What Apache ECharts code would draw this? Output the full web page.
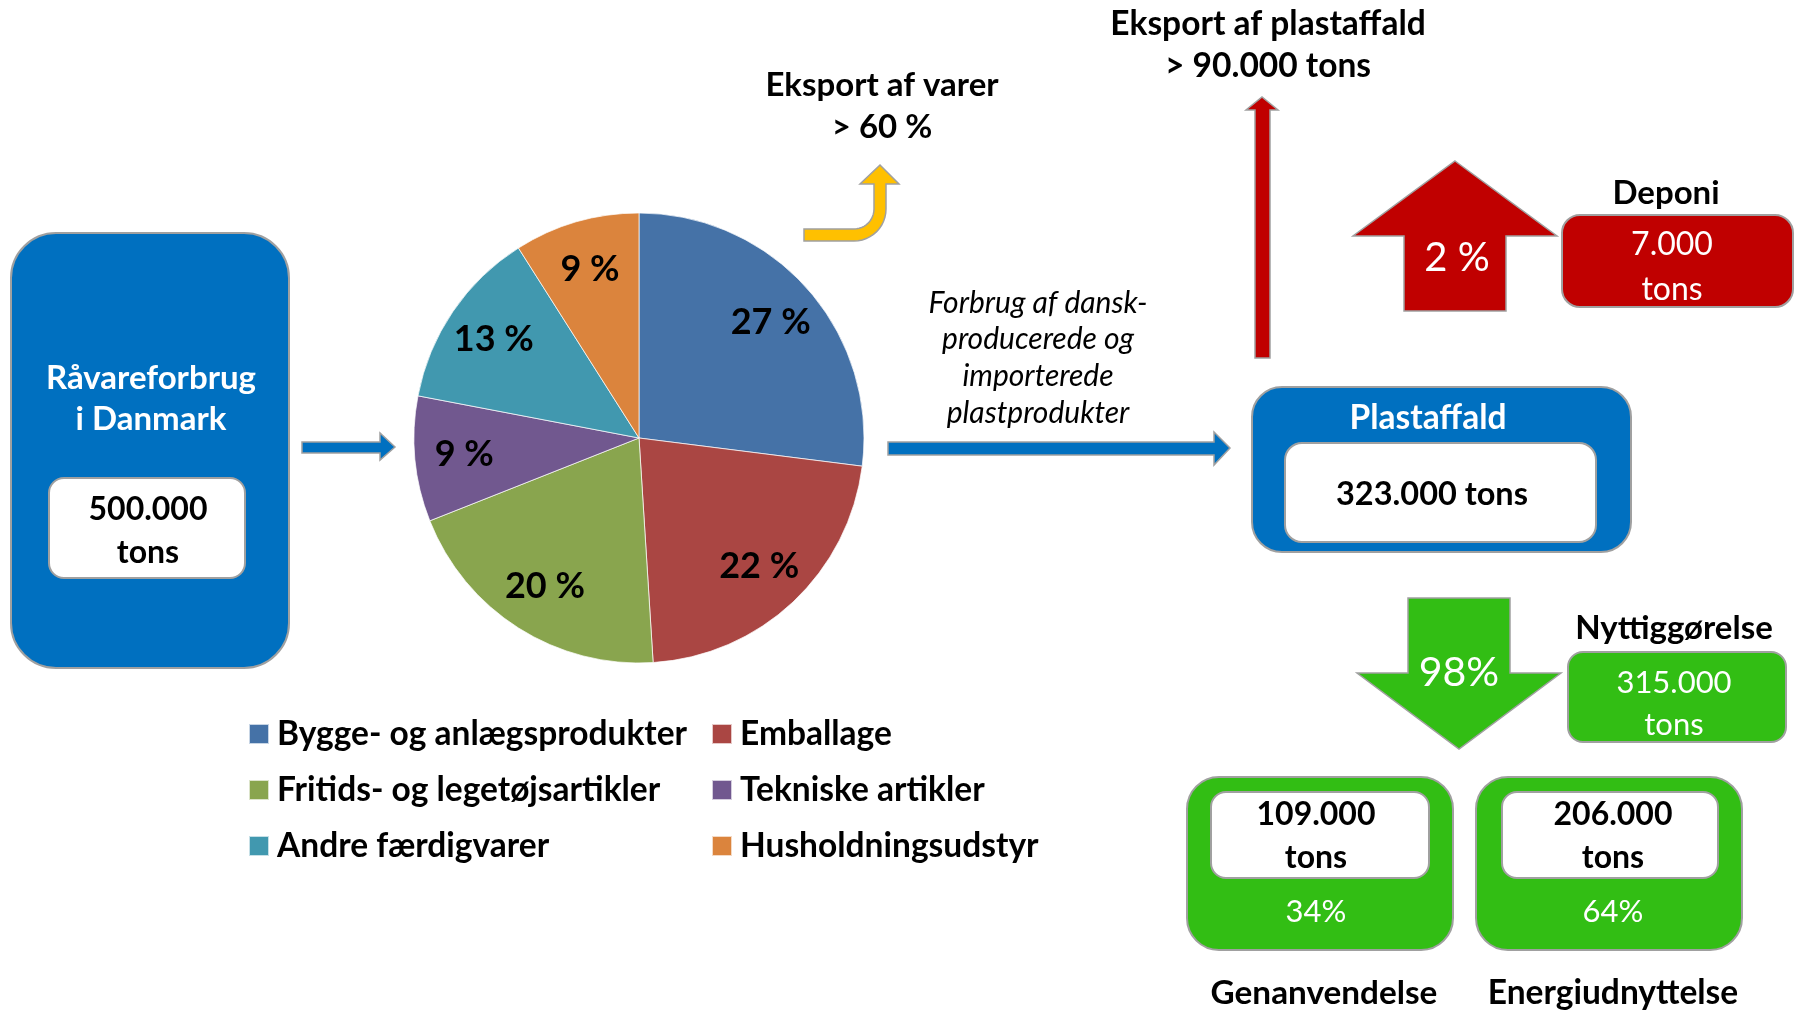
<!DOCTYPE html>
<html>
<head>
<meta charset="utf-8">
<script src="https://cdn.jsdelivr.net/npm/echarts@6/dist/echarts.min.js"></script>
<style>
html,body{margin:0;padding:0;background:#fff;}
#chart{width:1797px;height:1013px;}
</style>
</head>
<body>
<div id="chart"></div>
<script>
// ---- data ----
const categories = ['Bygge- og anlægsprodukter', 'Emballage', 'Fritids- og legetøjsartikler', 'Tekniske artikler', 'Andre færdigvarer', 'Husholdningsudstyr'];
const shares = [27, 22, 20, 9, 13, 9];
const sliceColors = ['#4572A7', '#AA4643', '#89A54E', '#71588F', '#4198AF', '#DB843D'];
const leftLegendItems = ['Bygge- og anlægsprodukter', 'Fritids- og legetøjsartikler', 'Andre færdigvarer'];
const rightLegendItems = ['Emballage', 'Tekniske artikler', 'Husholdningsudstyr'];

const sourceTitle = 'Råvareforbrug\ni Danmark';
const sourceAmount = '500.000\ntons';
const exportGoods = 'Eksport af varer\n> 60 %';
const exportWaste = 'Eksport af plastaffald\n> 90.000 tons';
const flowNote = 'Forbrug af dansk-\nproducerede og\nimporterede\nplastprodukter';
const wasteTitle = 'Plastaffald';
const wasteAmount = '323.000 tons';
const landfillShare = '2 %';
const landfillTitle = 'Deponi';
const landfillAmount = '7.000\ntons';
const recoveryShare = '98%';
const recoveryTitle = 'Nyttiggørelse';
const recoveryAmount = '315.000\ntons';
const recycleAmount = '109.000\ntons';
const recycleShare = '34%';
const recycleTitle = 'Genanvendelse';
const energyAmount = '206.000\ntons';
const energyShare = '64%';
const energyTitle = 'Energiudnyttelse';

// ---- styles ----
const BLUE = '#0070C0', RED = '#C00000', GREEN = '#32BE14', GOLD = '#FFC000', EDGE = '#A0A0A0';
const FONT = 'Lato, "Open Sans", sans-serif';

function box(x, y, w, h, r, fill) {
  return { type: 'rect', shape: { x: x, y: y, width: w, height: h, r: r }, style: { fill: fill, stroke: EDGE, lineWidth: 2 }, z: 1 };
}
function txt(text, x, y, size, weight, fill, lh, italic) {
  return { type: 'text', z: 10, style: { text: text, x: x, y: y, fill: fill || '#000',
    font: (italic ? 'italic ' : '') + (weight || 'bold') + ' ' + size + 'px ' + FONT,
    align: 'center', verticalAlign: 'middle', lineHeight: lh || size } };
}
function poly(points, fill) {
  return { type: 'polygon', shape: { points: points }, style: { fill: fill, stroke: EDGE, lineWidth: 1.5 }, z: 1 };
}
// quarter-arc sampler for the bent arrow outline
function arcPts(cx, cy, r, a0, a1, n) {
  const pts = [];
  for (let i = 0; i <= n; i++) {
    const a = a0 + (a1 - a0) * i / n;
    pts.push([cx + r * Math.cos(a), cy + r * Math.sin(a)]);
  }
  return pts;
}
const bentArrow = [[804, 229]]
  .concat(arcPts(854, 209, 20, Math.PI / 2, 0, 12))
  .concat([[874, 184], [860, 184], [880, 165], [899, 184], [886, 184]])
  .concat(arcPts(854, 209, 32, 0, Math.PI / 2, 12))
  .concat([[804, 241]]);

const chart = echarts.init(document.getElementById('chart'));
const pieData = categories.map((c, i) => ({ name: c, value: shares[i], itemStyle: { color: sliceColors[i] } }));

const legendBase = {
  orient: 'vertical', top: 717, padding: 0, itemWidth: 20, itemHeight: 20, itemGap: 22, icon: 'rect',
  textStyle: { fontFamily: FONT, fontWeight: 'bold', fontSize: 33.5, color: '#000', padding: [0, 0, 0, 3] },
  selectedMode: false
};

chart.setOption({
  backgroundColor: '#fff',
  animation: false,
  legend: [
    Object.assign({}, legendBase, { left: 248, data: leftLegendItems.map(n => ({ name: n, itemStyle: { color: sliceColors[categories.indexOf(n)] } })) }),
    Object.assign({}, legendBase, { left: 711, data: rightLegendItems.map(n => ({ name: n, itemStyle: { color: sliceColors[categories.indexOf(n)] } })) })
  ],
  series: [
    {
      type: 'pie', center: [639, 438], radius: [0, 225], startAngle: 90, clockwise: true,
      label: { show: false }, labelLine: { show: false }, silent: true,
      itemStyle: { borderColor: 'rgba(255,255,255,0.7)', borderWidth: 1 },
      data: pieData
    },
    {
      type: 'pie', center: [639, 438], radius: [120, 225], startAngle: 90, clockwise: true, silent: true,
      itemStyle: { color: 'rgba(0,0,0,0)', borderWidth: 0 },
      label: { show: true, position: 'inside', formatter: '{c} %', fontFamily: FONT, fontWeight: 'bold', fontSize: 36, color: '#000' },
      labelLine: { show: false },
      data: categories.map((c, i) => ({ name: c, value: shares[i] })),
      legendHoverLink: false
    }
  ],
  graphic: [
    box(11, 233, 278, 435, 45, BLUE),
    box(49, 478, 196, 100, 15, '#fff'),
    txt(sourceTitle, 151, 398.5, 33, 'bold', '#fff', 41),
    txt(sourceAmount, 148, 531.5, 32, 'bold', '#000', 43),
    poly([[302, 442], [380, 442], [380, 433], [395, 447], [380, 460], [380, 453], [302, 453]], BLUE),
    poly(bentArrow, GOLD),
    txt(exportGoods, 882, 106, 33, 'bold', '#000', 42),
    poly([[888, 442], [1214, 442], [1214, 432], [1230, 448], [1214, 465], [1214, 455], [888, 455]], BLUE),
    txt(flowNote, 1038, 358, 30, 'normal', '#000', 36.7, true),
    poly([[1255, 358], [1255, 110], [1246, 110], [1262, 97], [1278, 110], [1270, 110], [1270, 358]], RED),
    txt(exportWaste, 1268, 45, 33.5, 'bold', '#000', 42),
    poly([[1455, 161], [1557, 236], [1506, 236], [1506, 311], [1404, 311], [1404, 236], [1353, 236]], RED),
    txt(landfillShare, 1457, 258, 40, 'normal', '#fff'),
    txt(landfillTitle, 1666, 193, 33, 'bold', '#000'),
    box(1562, 215, 231, 92, 18, RED),
    txt(landfillAmount, 1672, 267.5, 32, 'normal', '#fff', 45),
    box(1252, 387, 379, 165, 30, BLUE),
    box(1285, 443, 311, 99, 17, '#fff'),
    txt(wasteTitle, 1428, 418, 33.5, 'bold', '#fff'),
    txt(wasteAmount, 1432, 495, 32.5, 'bold', '#000'),
    poly([[1408, 598], [1510, 598], [1510, 673], [1561, 673], [1459, 749], [1357, 673], [1408, 673]], GREEN),
    txt(recoveryShare, 1459, 673, 41, 'normal', '#fff'),
    txt(recoveryTitle, 1674, 628, 33, 'bold', '#000'),
    box(1568, 652, 218, 90, 15, GREEN),
    txt(recoveryAmount, 1674, 704, 31, 'normal', '#fff', 42),
    box(1187, 777, 266, 173, 32, GREEN),
    box(1211, 792, 218, 86, 15, '#fff'),
    txt(recycleAmount, 1316, 836.5, 32, 'bold', '#000', 43),
    txt(recycleShare, 1316, 912, 31, 'normal', '#fff'),
    txt(recycleTitle, 1324, 993, 33.3, 'bold', '#000'),
    box(1476, 777, 266, 173, 32, GREEN),
    box(1502, 792, 216, 86, 15, '#fff'),
    txt(energyAmount, 1613, 836.5, 32, 'bold', '#000', 43),
    txt(energyShare, 1613, 912, 31, 'normal', '#fff'),
    txt(energyTitle, 1613, 993, 33.5, 'bold', '#000')
  ]
});
</script>
</body>
</html>
